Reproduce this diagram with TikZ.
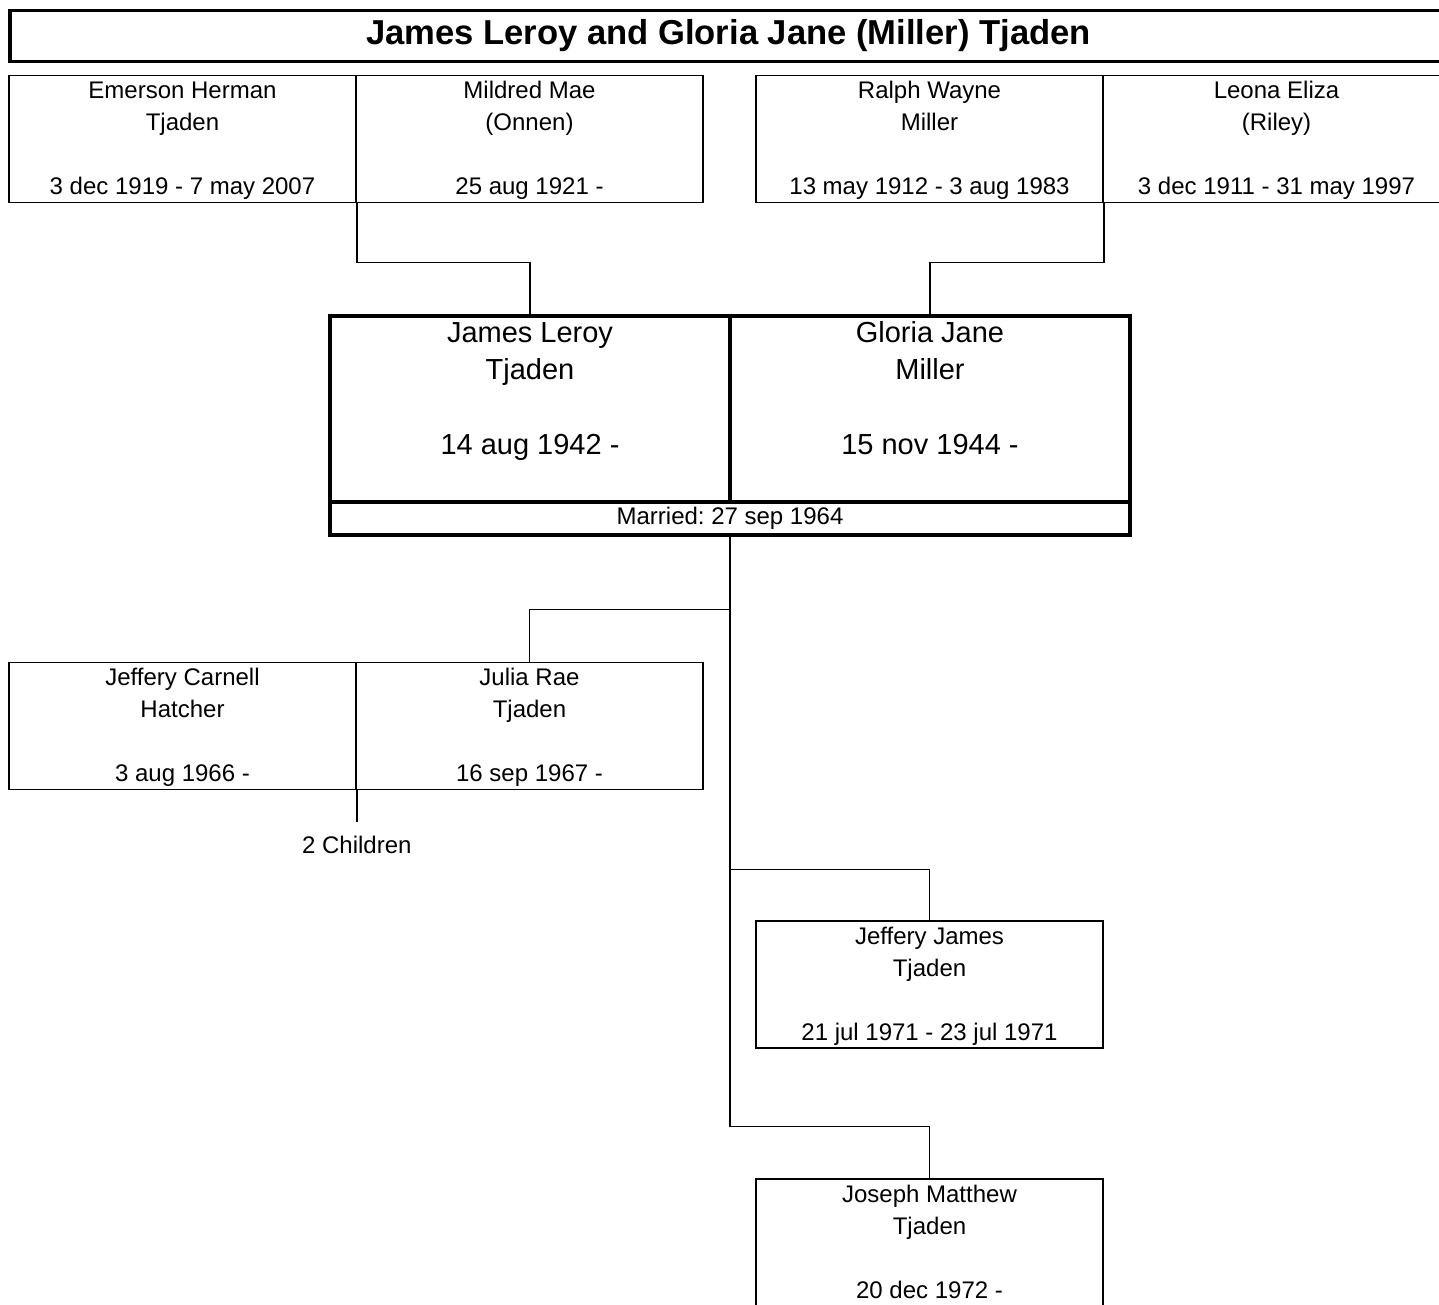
\documentclass[tikz,border=0pt]{standalone}
\usepackage{fontspec}
\setmainfont{Liberation Sans}
\usetikzlibrary{positioning,calc}
\frenchspacing

\begin{document}
\begin{tikzpicture}[x=0.5pt,y=-0.5pt,
  every node/.style={inner sep=0pt},
  personbox/.style={draw,line width=0.8pt,minimum width=173.5pt,minimum height=63.5pt},
  persontext/.style={anchor=north,align=center,inner sep=0.6pt,font=\fontsize{12}{16}\selectfont},
  couplebox/.style={draw,line width=1.6pt,minimum width=200pt,minimum height=93pt},
  coupletext/.style={anchor=north,align=center,inner sep=0.6pt,font=\fontsize{14.5}{18.7}\selectfont},
  link/.style={line width=0.8pt}]
  \clip (0,0) rectangle (1439,1305);
  % title bar
  \node[draw,line width=1.6pt,minimum width=718.5pt,minimum height=25.5pt,font=\fontsize{17.3}{20}\selectfont\bfseries] (title) at (728.5,36) {James Leroy and Gloria Jane (Miller) Tjaden};
  % parents and children
  \foreach \nm/\cx/\cy/\la/\lb/\dt in {emerson/182.5/139/Emerson Herman/Tjaden/3 dec 1919 - 7 may 2007,
      mildred/529.5/139/Mildred Mae/{(Onnen)}/25 aug 1921 -,
      ralph/929.5/139/Ralph Wayne/Miller/13 may 1912 - 3 aug 1983,
      leona/1276.5/139/Leona Eliza/{(Riley)}/3 dec 1911 - 31 may 1997,
      jeffc/182.5/726/Jeffery Carnell/Hatcher/3 aug 1966 -,
      julia/529.5/726/Julia Rae/Tjaden/16 sep 1967 -,
      jeffj/929.5/984.5/Jeffery James/Tjaden/21 jul 1971 - 23 jul 1971,
      joseph/929.5/1242.5/Joseph Matthew/Tjaden/20 dec 1972 -}{
    \node[personbox] (\nm) at (\cx,\cy) {};
    \node[persontext] at (\nm.north) {\strut\la\\\lb\\[16pt]\dt};
  }
  % the couple
  \node[couplebox] (james) at (530,409) {};
  \node[couplebox] (gloria) at (930,409) {};
  \node[draw,line width=1.6pt,minimum width=400pt,minimum height=16.5pt,font=\fontsize{12}{16}\selectfont] (married) at (730,518.5) {Married: 27 sep 1964};
  \node[coupletext] at (james.north) {\strut James Leroy\\Tjaden\\[18.7pt]14 aug 1942 -};
  \node[coupletext] at (gloria.north) {\strut Gloria Jane\\Miller\\[18.7pt]15 nov 1944 -};
  % links
  \draw[link] (emerson.south east) -- ++(0,59) -| (james.north);
  \draw[link] (ralph.south east) -- ++(0,59) -| (gloria.north);
  \draw[link] (married.south) -- ++(0,73) -| (julia.north);
  \draw[link] (married.south) -- ++(0,333) -| (jeffj.north);
  \draw[link] (married.south) -- ++(0,590) -| (joseph.north);
  \node[below=16pt of jeffc.south east,inner sep=6.5pt,font=\fontsize{12}{16}\selectfont] (kids) {2 Children};
  \draw[link] (jeffc.south east) -- (kids.north);
\end{tikzpicture}
\end{document}
